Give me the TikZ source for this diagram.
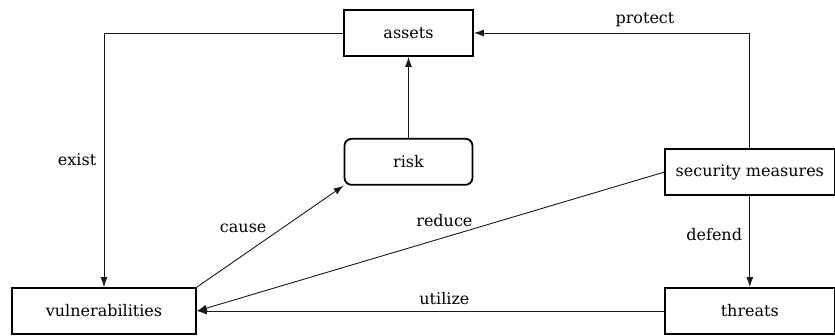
\documentclass[tikz,border=0pt]{standalone}
\usepackage{fontspec}
\setmainfont{DejaVu Serif}
\usetikzlibrary{positioning, arrows.meta}
\tikzset{>=latex}

\begin{document}
\begin{tikzpicture}[x=1pt, y=-1pt, every node/.append style={font=\fontsize{16}{18}\selectfont, align=center, text=black}, box/.style={draw, line width=1.8pt, minimum height=46pt, inner sep=0pt}, X/.tip={Latex[length=10pt,width=7pt]}, link/.style={line width=0.9pt, black!90}]
    \useasboundingbox (0,0) rectangle (835,336);
    \node[box, minimum width=129pt] (assets) at (408.5,33) {assets};
    \node[box, minimum width=128pt, rounded corners=7pt, below=81pt of assets] (risk) {risk};
    \node[box, minimum width=184pt] (vuln) at (104,311) {vulnerabilities};
    \node[box, minimum width=170pt, right=467pt of vuln] (threats) {threats};
    \node[box, minimum width=170pt, above=91pt of threats] (measures) {security measures};
    \draw[link, -X] (assets.west) -| node[pos=0.75, left=4pt] {exist} (vuln.north);
    \draw[link, -X] (measures.north) |- node[pos=0.69, above=2pt] {protect} (assets.east);
    \draw[link, -X] (risk) -- (assets);
    \draw[link, -X] (vuln.north east) -- node[pos=0.5, above left=0pt] {cause} (risk.south west);
    \draw[link, -X] (measures.west) -- node[pos=0.47, above=7pt] {reduce} (vuln.east);
    \draw[link, -X] (measures) -- node[pos=0.42, left=4pt] {defend} (threats);
    \draw[link, -X] (threats) -- node[pos=0.47, above=2pt] {utilize} (vuln);
\end{tikzpicture}
\end{document}
